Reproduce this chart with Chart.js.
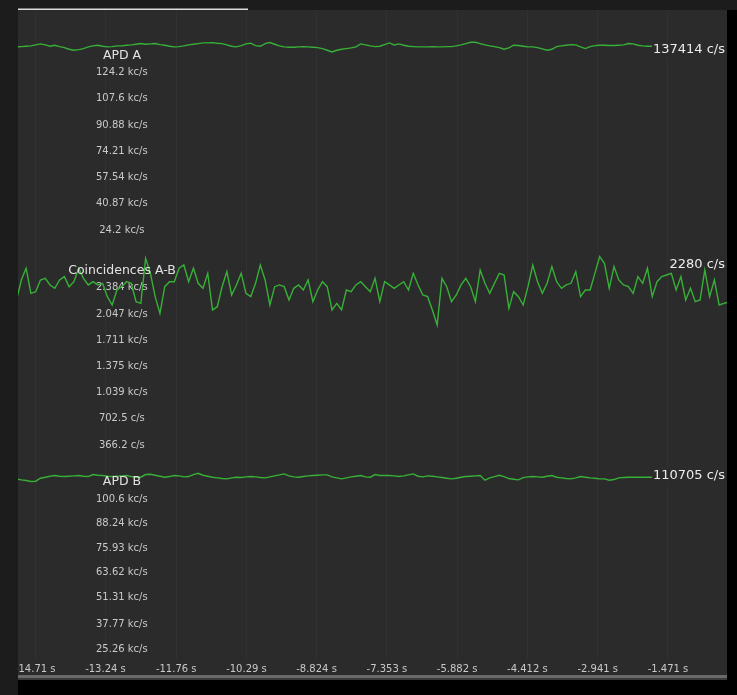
<!DOCTYPE html>
<html>
<head>
<meta charset="utf-8">
<script src="https://cdn.jsdelivr.net/npm/chart.js@4.4.1/dist/chart.umd.min.js"></script>
<style>
  html, body { margin: 0; padding: 0; background: #000; }
  canvas { display: block; }
</style>
</head>
<body>
<canvas id="counts" width="737" height="695"></canvas>
<script>
// sample times (s, relative to now), one reading every 0.1 s
const times = Array.from({length: 150}, (_, i) => -15.1 + 0.1 * i);

// count rates (c/s)
const apdA = [
  136780,136990,137200,137410,138050,138690,138050,137200,137840,136990,
  136350,135290,134660,135080,135720,136780,137410,137840,137200,136780,
  136990,137410,137410,137840,138050,138470,138900,138470,138690,138900,
  138260,137840,137200,136780,136990,137410,138050,138470,138900,139320,
  139320,139530,139110,138900,138050,137200,136780,137630,138690,139110,
  137630,137200,138900,139530,138470,137410,136780,136570,136570,136780,
  136990,136780,136570,136350,135720,134660,133600,134660,135290,135720,
  136140,136780,138690,138050,137410,136990,137200,138260,139320,138050,
  138690,137840,137200,136990,136780,136780,136780,136990,136780,136780,
  136990,136990,137410,138050,138900,139750,139750,138900,138050,137410,
  136990,136350,135290,136140,137840,137630,137200,136780,136780,136350,
  135510,134660,135290,136990,137410,137840,138260,138050,136780,135720,
  136990,137630,137840,137840,137630,137630,137840,138050,138900,138690,
  137840,137410,137200,137200,137200,137410,137630,137410,137200,137200,
  137410,137630,137410,137200,136990,137200,137410,137410,137200,137414
];
const coincidences = [
  2226,2483,2633,2311,2333,2483,2504,2419,2376,2483,
  2526,2397,2461,2633,2504,2419,2461,2419,2440,2269,
  2162,2354,2397,2461,2440,2205,2183,2761,2568,2269,
  2055,2397,2461,2461,2633,2675,2461,2633,2440,2376,
  2568,2098,2140,2397,2590,2290,2419,2568,2311,2269,
  2440,2675,2483,2162,2397,2419,2397,2226,2376,2419,
  2354,2483,2205,2354,2461,2397,2098,2183,2098,2354,
  2333,2419,2461,2397,2333,2504,2205,2461,2419,2376,
  2419,2461,2354,2568,2419,2290,2269,2098,1905,2504,
  2397,2205,2290,2419,2504,2397,2205,2611,2440,2311,
  2440,2568,2547,2119,2333,2269,2162,2397,2675,2461,
  2311,2440,2654,2461,2376,2419,2440,2590,2269,2354,
  2354,2568,2782,2697,2376,2654,2483,2419,2397,2311,
  2526,2440,2633,2269,2461,2526,2547,2568,2354,2526,
  2226,2376,2205,2226,2611,2269,2483,2162,2183,2200
];
const apdB = [
  110710,110200,109870,109370,109540,111040,111540,112040,112380,112040,
  111870,112040,112210,112380,112040,111870,112880,112540,112380,112040,
  111870,112040,112210,112380,111870,111540,111540,112880,113040,112540,
  112040,111540,111870,112380,112210,111710,111870,112880,113540,112540,
  112040,111540,111210,110870,110710,111210,111540,111370,111710,111870,
  111710,111370,111210,111710,112210,112710,113210,112210,111710,111540,
  111870,112210,112380,112540,112710,112710,111710,111210,110710,111210,
  111710,112040,112380,111710,111540,112880,112380,112380,112380,112210,
  111870,112210,112710,113210,112040,111710,112210,112040,111710,111370,
  111040,110710,111040,111540,111870,112040,112210,112380,110040,111210,
  111870,112540,111870,110870,110540,110200,111370,111710,111870,111710,
  111540,112040,112380,111540,111210,110870,110710,111210,111870,111540,
  111210,111040,110710,110710,110040,110370,111210,111370,111540,111540,
  111540,111540,111540,111540,111370,111210,111540,111710,111540,111370,
  111210,111370,111540,111540,111370,111210,111040,110870,110710,110705
];

const panelTitles = ['APD A', 'Coincidences A-B', 'APD B'];
const currentRates = [137414, 2280, 110705];

// tick values shown on each panel
const apdATicks = [124200, 107600, 90880, 74210, 57540, 40870, 24200];
const coincTicks = [2384, 2047, 1711, 1375, 1039, 702.5, 366.2];
const apdBTicks = [100600, 88240, 75930, 63620, 51310, 37770, 25260];
const timeTicks = [-14.71, -13.24, -11.76, -10.29, -8.824, -7.353, -5.882, -4.412, -2.941, -1.471];

function fmtRate(v) {
  if (v >= 1000) return (+(v / 1000).toPrecision(4)) + ' kc/s';
  return (+v.toPrecision(4)) + ' c/s';
}

const LINE = '#37b037';
const FONT = '"DejaVu Sans", Verdana, sans-serif';

function rateAxis(ticks, min, max, labelOffset) {
  return {
    type: 'linear',
    position: 'left',
    min: min,
    max: max,
    grid: { display: false, drawTicks: false },
    border: { display: false },
    afterBuildTicks: s => { s.ticks = ticks.map(v => ({ value: v })); },
    // labels sit inside the plot, so the axis takes no room
    afterFit: s => { s.width = 0; s.paddingTop = 0; s.paddingBottom = 0; },
    ticks: {
      mirror: true,
      crossAlign: 'center',
      padding: 78,
      labelOffset: labelOffset,
      autoSkip: false,
      color: '#c9c9c9',
      font: { family: FONT, size: 10 },
      callback: v => fmtRate(v)
    }
  };
}

function series(values, axis) {
  return {
    data: values.map((v, i) => ({ x: times[i], y: v })),
    yAxisID: axis,
    borderColor: LINE,
    borderWidth: 1.4,
    pointRadius: 0,
    tension: 0,
    fill: false
  };
}

// dark window frame and plot background
const backdrop = {
  id: 'backdrop',
  beforeDraw(chart) {
    const c = chart.ctx, a = chart.chartArea, xb = chart.scales.x.bottom;
    c.save();
    c.fillStyle = '#000';
    c.fillRect(0, 0, chart.width, chart.height);
    c.fillStyle = '#1c1c1c';
    c.fillRect(0, 0, chart.width, a.top);
    c.fillRect(0, 0, a.left, chart.height);
    c.fillStyle = '#2b2b2b';
    c.fillRect(a.left, a.top, a.right - a.left, xb - a.top);
    c.fillStyle = '#6a6a6a';
    c.fillRect(a.left, xb, a.right - a.left, 3);
    c.fillStyle = '#3a3a3a';
    c.fillRect(a.left, xb + 3, a.right - a.left, 2);
    c.fillStyle = '#dcdcdc';
    c.fillRect(a.left, a.top - 1.5, 230, 1.5);
    c.restore();
  },
  afterDraw(chart) {
    // the leftmost time label is cut by the frame
    const c = chart.ctx, a = chart.chartArea;
    c.save();
    c.fillStyle = '#1c1c1c';
    c.fillRect(0, a.top, a.left, chart.height - a.top);
    c.restore();
  }
};

// panel names and the current rate at the right edge
const panelLabels = {
  id: 'panelLabels',
  afterDatasetsDraw(chart) {
    const c = chart.ctx, a = chart.chartArea;
    const axes = ['yA', 'yC', 'yB'];
    c.save();
    axes.forEach((id, k) => {
      const s = chart.scales[id];
      const top = s.getPixelForValue(s.ticks[0].value) + (s.options.ticks.labelOffset || 0);
      const ty = top - 17;
      c.font = '12.5px ' + FONT;
      c.fillStyle = '#e2e2e2';
      c.textAlign = 'center';
      c.textBaseline = 'middle';
      c.fillText(panelTitles[k], a.left + 104, ty);

      const txt = currentRates[k] + ' c/s';
      c.font = '13px ' + FONT;
      const w = c.measureText(txt).width;
      const ry = ty - 6;
      if (k !== 1) {
        c.fillStyle = '#2b2b2b';
        c.fillRect(a.right - 2 - w - 1, ry - 7, w + 3, 14);
      }
      c.fillStyle = '#ececec';
      c.textAlign = 'right';
      c.fillText(txt, a.right - 2, ry);
    });
    c.restore();
  }
};

new Chart(document.getElementById('counts'), {
  type: 'line',
  data: {
    datasets: [
      series(apdA, 'yA'),
      series(coincidences, 'yC'),
      series(apdB, 'yB')
    ]
  },
  options: {
    responsive: false,
    animation: false,
    layout: { padding: { left: 18, top: 10, right: 10, bottom: 20 } },
    plugins: { legend: { display: false }, tooltip: { enabled: false } },
    scales: {
      x: {
        type: 'linear',
        position: 'bottom',
        min: -15.07,
        max: -0.236,
        grid: { color: 'rgba(255,255,255,0.03)', drawTicks: false },
        border: { display: false },
        afterBuildTicks: s => { s.ticks = timeTicks.map(v => ({ value: v })); },
        afterFit: s => { s.height = 15; },
        ticks: {
          padding: 3,
          autoSkip: false,
          maxRotation: 0,
          color: '#c9c9c9',
          font: { family: FONT, size: 10 },
          callback: v => v.toPrecision(4) + ' s'
        }
      },
      yA: rateAxis(apdATicks, -252905, 160239, 6),
      yC: rateAxis(coincTicks, -2392, 5946, 0),
      yB: rateAxis(apdBTicks, 19736, 346205, 0)
    }
  },
  plugins: [backdrop, panelLabels]
});
</script>
</body>
</html>
